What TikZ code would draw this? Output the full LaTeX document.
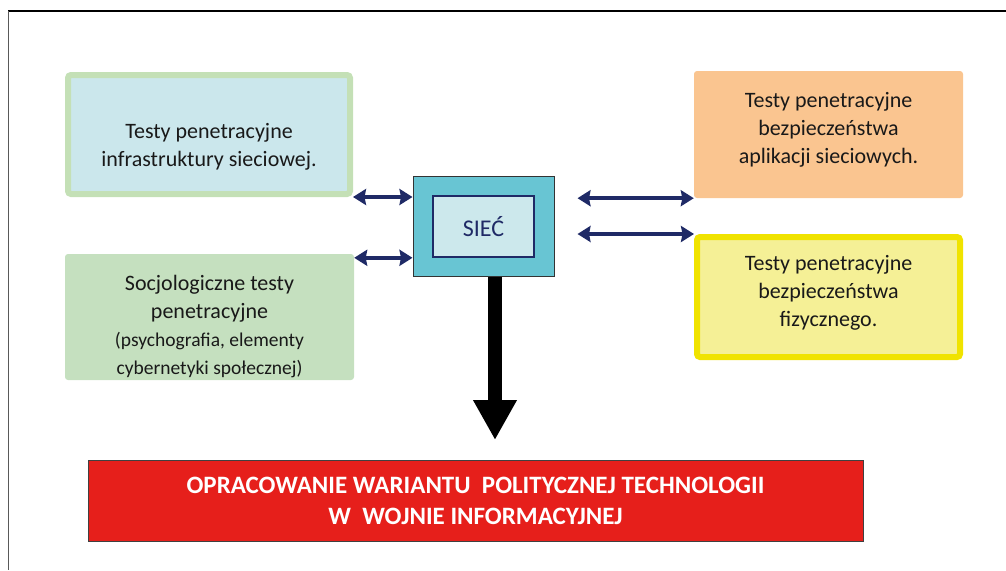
\documentclass[tikz,border=0pt]{standalone}
\usepackage{fontspec}
\setmainfont{Carlito}
\usetikzlibrary{arrows.meta}
\definecolor{infrafill}{HTML}{CBE7EC}
\definecolor{infraline}{HTML}{C4E0B6}
\definecolor{socjofill}{HTML}{C5E0BF}
\definecolor{aplikfill}{HTML}{FAC590}
\definecolor{fizykfill}{HTML}{F5F096}
\definecolor{fizykline}{HTML}{F0E300}
\definecolor{siecfill}{HTML}{68C5D3}
\definecolor{siecinner}{HTML}{CCE8EC}
\definecolor{navy}{HTML}{1F2A66}
\definecolor{redfill}{HTML}{E61F1B}
\tikzset{>={Stealth[length=13pt,width=16pt,inset=1.5pt]}}
\tikzset{box/.style={rounded corners=3pt, inner sep=0pt},
         txt/.style={align=center, text=black!90, font=\fontsize{22}{28}\selectfont},
         link/.style={navy, line width=4pt, <->}}

\begin{document}
\begin{tikzpicture}[x=1pt,y=-1pt]
    \useasboundingbox (0,0) rectangle (1006,570);
    \draw [black, line width=1.2pt] (8,11) -- (1006,11);
    \draw [black!65, line width=1pt] (8,11) -- (8,570);
    \coordinate (drop) at (495,440);
    \node [box, fill=infrafill, draw=infraline, line width=6pt, minimum width=282pt, minimum height=119pt] (infra) at (209,134.5) {};
    \node [box, fill=socjofill, minimum width=289pt, minimum height=126pt] (socjo) at (209.5,317) {};
    \node [box, fill=aplikfill, minimum width=269pt, minimum height=127pt] (aplik) at (828.5,134.5) {};
    \node [box, fill=fizykfill, draw=fizykline, line width=6pt, minimum width=263pt, minimum height=120pt] (fizyk) at (828.5,297) {};
    \node [txt] (infraT) at (209,147) {Testy penetracyjne\\infrastruktury sieciowej.};
    \node [txt] (socjoT) at (209.5,326.5) {Socjologiczne testy\\penetracyjne\\\fontsize{19.5}{26}\selectfont(psychografia, elementy\\\fontsize{19.5}{26}\selectfont cybernetyki społecznej)};
    \node [txt] (aplikT) at (828.5,130) {Testy penetracyjne\\bezpieczeństwa\\aplikacji sieciowych.};
    \node [txt] (fizykT) at (828.5,293) {Testy penetracyjne\\bezpieczeństwa\\fizycznego.};
    \node [draw=black!80, fill=siecfill, line width=1pt, inner sep=0pt, minimum width=141pt, minimum height=100pt] (siec) at (483.5,226) {};
    \node [draw=navy, fill=siecinner, line width=1.5pt, inner sep=0pt, minimum width=101pt, minimum height=61pt, text=navy, font=\fontsize{24}{28}\selectfont] (siecT) at (483.5,226.5) {SIEĆ};
    \node [draw=black!75, fill=redfill, line width=1pt, inner sep=0pt, minimum width=775pt, minimum height=81pt, align=center, text=white, font=\bfseries\fontsize{25}{31}\selectfont] (wynik) at (475.5,500.5) {OPRACOWANIE WARIANTU\ \ POLITYCZNEJ TECHNOLOGII\\W\ \ WOJNIE INFORMACYJNEJ};
    \coordinate (socjoA) at ([yshift=-4pt]socjo.north east);
    \coordinate (aplikA) at ([xshift=23pt]siec.east |- aplik.south west);
    \coordinate (fizykA) at ([xshift=23pt]siec.east |- fizyk.north west);
    \draw [link] (infra.south east) -- (infra.south east -| siec.west);
    \draw [link] (socjoA) -- (socjoA -| siec.west);
    \draw [link] (aplikA) -- (aplik.south west);
    \draw [link] (fizykA) -- (fizyk.north west);
    \draw [line width=14pt, -{Triangle[length=40pt,width=41pt]}] (siec.south -| drop) -- (drop);
\end{tikzpicture}
\end{document}
